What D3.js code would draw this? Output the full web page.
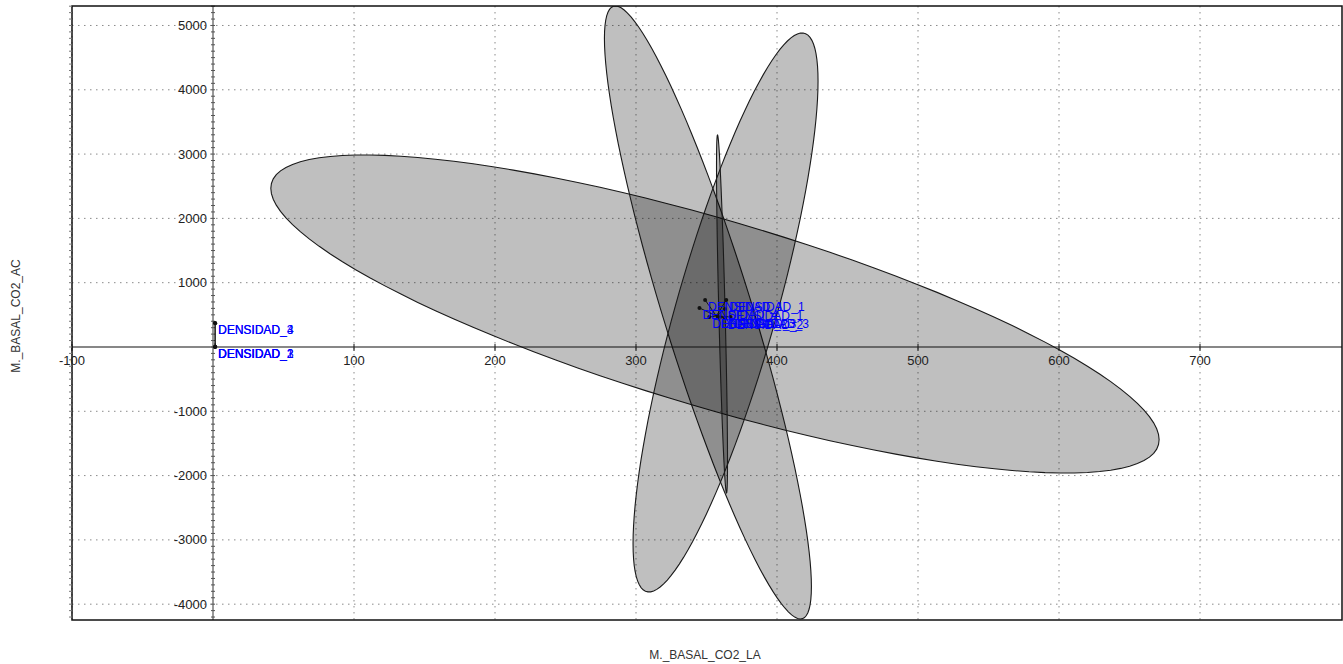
<!DOCTYPE html>
<html>
<head>
<meta charset="utf-8">
<script src="https://cdn.jsdelivr.net/npm/d3@7"></script>
<style>
  body { margin: 0; background: #fff; }
  svg { display: block; font-family: "Liberation Sans", Arial, sans-serif; }
</style>
</head>
<body>
<svg id="chart" width="1343" height="664"></svg>
<script>
// axis ticks
const xTicks = [-100, 100, 200, 300, 400, 500, 600, 700];
const yTicks = [-4000, -3000, -2000, -1000, 1000, 2000, 3000, 4000, 5000];

// confidence ellipses: centre, half extent on each axis, correlation
const ellipseCx = [356, 351, 363.5, 361];
const ellipseCy = [513, 537, 537, 513];
const ellipseSx = [315, 73.4, 65.6, 3.9];
const ellipseSy = [2473, 4767, 4347, 2784];
const ellipseR = [-0.79, -0.894, 0.827, -0.82];

// observations
const pointLabels = ['DENSIDAD_1', 'DENSIDAD_1', 'DENSIDAD_4', 'DENSIDAD_1', 'DENSIDAD_2', 'DENSIDAD_3', 'DENSIDAD_2', 'DENSIDAD_3',
  'DENSIDAD_3', 'DENSIDAD_4', 'DENSIDAD_1', 'DENSIDAD_2', 'DENSIDAD_3'];
const pointX = [349, 364, 345, 363, 352, 358, 363, 367, 1.4, 1.6, 1.4, 1.5, 1.6];
const pointY = [731, 731, 607, 591, 467, 467, 451, 467, 373, 370, 0, 2, 4];
const pointGroup = [0, 0, 0, 0, 0, 0, 0, 0, 1, 1, 1, 1, 1];

// group centroids the points are joined to
const centroidX = [357, 1.5];
const centroidY = [482, 60];

const plotLeft = 72, plotRight = 1342, plotTop = 6, plotBottom = 620;

const x = d3.scaleLinear().domain([-100, 800.7]).range([plotLeft, plotRight]);
const y = d3.scaleLinear().domain([-4246, 5303]).range([plotBottom, plotTop]);

const svg = d3.select('#chart');

svg.append('defs').append('clipPath').attr('id', 'plot')
  .append('rect')
  .attr('x', plotLeft).attr('y', plotTop)
  .attr('width', plotRight - plotLeft).attr('height', plotBottom - plotTop);

// dotted grid
const grid = svg.append('g')
  .attr('stroke', '#8a8a8a')
  .attr('stroke-width', 1)
  .attr('stroke-dasharray', '1.5,4.5');
grid.selectAll('line.v')
  .data(xTicks)
  .join('line')
  .attr('class', 'v')
  .attr('x1', d => x(d)).attr('x2', d => x(d))
  .attr('y1', plotTop).attr('y2', plotBottom);
grid.selectAll('line.h')
  .data(yTicks)
  .join('line')
  .attr('class', 'h')
  .attr('x1', plotLeft).attr('x2', plotRight)
  .attr('y1', d => y(d)).attr('y2', d => y(d));

// ellipses
const ellipsePoints = i => d3.range(0, 121).map(k => {
  const t = k / 120 * 2 * Math.PI;
  const r = ellipseR[i];
  return [
    x(ellipseCx[i] + ellipseSx[i] * Math.cos(t)),
    y(ellipseCy[i] + ellipseSy[i] * (r * Math.cos(t) + Math.sqrt(1 - r * r) * Math.sin(t)))
  ];
});
const line = d3.line().curve(d3.curveLinearClosed);

svg.append('g')
  .attr('clip-path', 'url(#plot)')
  .selectAll('path')
  .data(d3.range(ellipseCx.length))
  .join('path')
  .attr('d', i => line(ellipsePoints(i)))
  .attr('fill', '#000')
  .attr('fill-opacity', 0.25)
  .attr('stroke', '#1a1a1a')
  .attr('stroke-width', 1.1);

// axes through the origin
const minorY = d3.range(-4200, 5301, 100);

svg.append('line')
  .attr('x1', plotLeft).attr('x2', plotRight)
  .attr('y1', y(0)).attr('y2', y(0))
  .attr('stroke', '#111').attr('stroke-width', 1.2);
svg.append('line')
  .attr('x1', x(0)).attr('x2', x(0))
  .attr('y1', plotTop).attr('y2', plotBottom)
  .attr('stroke', '#333').attr('stroke-width', 1);
svg.append('g')
  .attr('stroke', '#555')
  .selectAll('line')
  .data(minorY)
  .join('line')
  .attr('x1', x(0) - 2).attr('x2', x(0) + 2)
  .attr('y1', d => y(d)).attr('y2', d => y(d));

svg.append('g')
  .attr('stroke', '#111')
  .selectAll('line')
  .data(xTicks)
  .join('line')
  .attr('x1', d => x(d)).attr('x2', d => x(d))
  .attr('y1', y(0) - 3).attr('y2', y(0) + 4);

// frame with minor ticks on the left edge
svg.append('rect')
  .attr('x', plotLeft).attr('y', plotTop)
  .attr('width', plotRight - plotLeft).attr('height', plotBottom - plotTop)
  .attr('fill', 'none')
  .attr('stroke', '#111')
  .attr('stroke-width', 1.5);
svg.append('g')
  .attr('stroke', '#777')
  .selectAll('line')
  .data(minorY)
  .join('line')
  .attr('x1', plotLeft - 3).attr('x2', plotLeft)
  .attr('y1', d => y(d)).attr('y2', d => y(d));

// tick labels
svg.append('g')
  .attr('font-size', 13)
  .attr('fill', '#222')
  .attr('text-anchor', 'middle')
  .selectAll('text')
  .data(xTicks)
  .join('text')
  .attr('x', d => x(d))
  .attr('y', y(0) + 18)
  .text(d => d);
svg.append('g')
  .attr('font-size', 13)
  .attr('fill', '#222')
  .attr('text-anchor', 'end')
  .selectAll('text')
  .data(yTicks)
  .join('text')
  .attr('x', x(0) - 6)
  .attr('y', d => y(d) + 4.5)
  .text(d => d);

// axis titles
svg.append('text')
  .attr('x', (plotLeft + plotRight) / 2 - 2)
  .attr('y', 659)
  .attr('text-anchor', 'middle')
  .attr('font-size', 12)
  .attr('fill', '#333')
  .text('M._BASAL_CO2_LA');
svg.append('text')
  .attr('transform', `translate(20,${(plotTop + plotBottom) / 2 + 3}) rotate(-90)`)
  .attr('text-anchor', 'middle')
  .attr('font-size', 12)
  .attr('fill', '#333')
  .text('M._BASAL_CO2_AC');

// points joined to their centroid
const idx = d3.range(pointX.length);
svg.append('g')
  .attr('stroke', '#111')
  .attr('stroke-width', 1)
  .selectAll('line')
  .data(idx)
  .join('line')
  .attr('x1', i => x(pointX[i])).attr('y1', i => y(pointY[i]))
  .attr('x2', i => x(centroidX[pointGroup[i]])).attr('y2', i => y(centroidY[pointGroup[i]]));
svg.append('g')
  .attr('fill', '#111')
  .selectAll('circle')
  .data(idx)
  .join('circle')
  .attr('cx', i => x(pointX[i]))
  .attr('cy', i => y(pointY[i]))
  .attr('r', 2);

svg.append('g')
  .attr('font-size', 12)
  .attr('fill', '#0000ff')
  .selectAll('text')
  .data(idx)
  .join('text')
  .attr('x', i => x(pointX[i]) + 3)
  .attr('y', i => y(pointY[i]) + 11)
  .text(i => pointLabels[i]);
</script>
</body>
</html>
